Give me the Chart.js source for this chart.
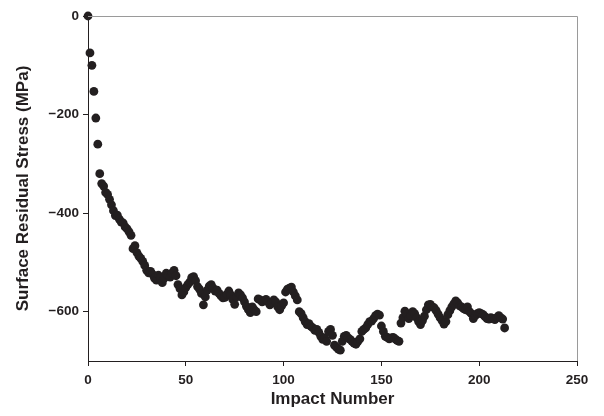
<!DOCTYPE html>
<html>
<head>
<meta charset="utf-8">
<script src="https://cdn.jsdelivr.net/npm/chart.js@4/dist/chart.umd.min.js"></script>
<style>
html,body{margin:0;padding:0;background:#fff;}
canvas{display:block;}
</style>
</head>
<body>
<canvas id="chart" width="604" height="416"></canvas>
<script>
// surface residual stress (MPa) after each impact, impact number = index
const stress=[
0,-75,-100,-153,-207,-260,-320,-340,-345,-358,
-362,-372,-383,-395,-405,-404,-412,-418,-420,-428,
-432,-438,-445,-472,-466,-480,-487,-492,-498,-506,
-516,-521,-518,-524,-532,-536,-526,-531,-541,-532,
-522,-527,-530,-521,-516,-527,-545,-553,-566,-560,
-551,-545,-540,-531,-529,-537,-549,-554,-563,-586,
-570,-556,-548,-545,-552,-558,-556,-563,-568,-572,
-571,-565,-558,-566,-575,-585,-570,-562,-566,-572,
-580,-589,-596,-602,-590,-596,-600,-574,-576,-580,
-578,-575,-580,-586,-582,-576,-580,-590,-596,-588,
-582,-560,-554,-552,-550,-560,-568,-576,-600,-604,
-612,-620,-626,-624,-630,-633,-638,-636,-642,-650,
-656,-653,-660,-640,-636,-648,-668,-672,-676,-678,
-660,-650,-648,-653,-656,-660,-664,-666,-660,-655,
-640,-636,-633,-626,-620,-619,-614,-608,-605,-607,
-629,-640,-650,-652,-655,-653,-652,-655,-658,-660,
-623,-612,-599,-605,-614,-608,-600,-604,-612,-620,
-626,-618,-609,-596,-586,-585,-590,-592,-598,-605,
-612,-618,-625,-620,-606,-598,-590,-584,-578,-582,
-588,-590,-594,-596,-590,-600,-604,-614,-608,-604,
-602,-604,-606,-610,-614,-615,-612,-614,-616,-612,
-608,-612,-615,-633
];
const xTicks=[0,50,100,150,200,250];
const yTicks=[0,-200,-400,-600];

const ink='#231f20';
const fam='"Liberation Sans", Arial, sans-serif';

// grey frame on top and right of the plot
const frame={
id:'frame',
afterDraw(c){
const a=c.chartArea,x=c.ctx;
x.save();
x.strokeStyle='#9a9a9a';
x.lineWidth=1;
x.beginPath();
x.moveTo(a.left,a.top+0.5);
x.lineTo(a.right+0.5,a.top+0.5);
x.lineTo(a.right+0.5,a.bottom);
x.stroke();
x.restore();
}
};

const ctx=document.getElementById('chart');
new Chart(ctx,{
type:'scatter',
data:{datasets:[{
data:stress.map((v,i)=>({x:i,y:v})),
backgroundColor:ink,
borderColor:ink,
pointRadius:4.4,
borderWidth:0,
clip:false
}]},
options:{
responsive:false,
animation:false,
layout:{padding:{top:16,right:27,left:0,bottom:0}},
plugins:{legend:{display:false},tooltip:{enabled:false}},
scales:{
x:{
type:'linear',min:0,max:250,
afterBuildTicks:s=>{s.ticks=xTicks.map(v=>({value:v}));},
afterFit:s=>{s.height=55;},
ticks:{color:ink,font:{family:fam,size:13.5,weight:'bold'},padding:6,maxRotation:0},
grid:{drawOnChartArea:false,tickLength:5,color:ink},
border:{color:ink,width:1},
title:{display:true,text:'Impact Number',color:ink,font:{family:fam,size:17,weight:'bold'},padding:{top:0,bottom:6}}
},
y:{
min:-700,max:0,
afterBuildTicks:s=>{s.ticks=yTicks.map(v=>({value:v}));},
afterFit:s=>{s.width=88;},
ticks:{color:ink,font:{family:fam,size:13.5,weight:'bold'},padding:4,
callback:v=>v<0?'\u2212'+Math.abs(v):String(v)},
grid:{drawOnChartArea:false,tickLength:5,color:ink},
border:{color:ink,width:1},
title:{display:true,text:'Surface Residual Stress (MPa)',color:ink,font:{family:fam,size:17,weight:'bold'},padding:{top:13,bottom:0}}
}
}
},
plugins:[frame]
});
</script>
</body>
</html>
